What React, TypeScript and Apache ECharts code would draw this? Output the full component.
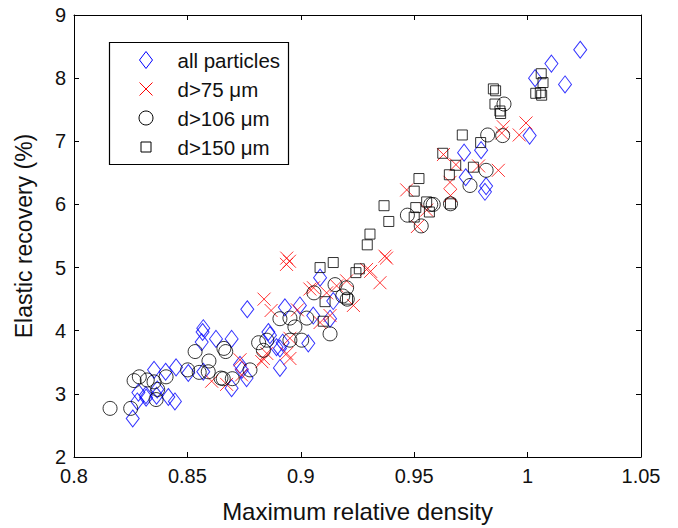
import React, { useEffect, useRef } from "react";
import * as echarts from "echarts";

const xTicks = [0.8, 0.85, 0.9, 0.95, 1, 1.05];
const yTicks = [2, 3, 4, 5, 6, 7, 8, 9];

const seriesNames = ["all particles", "d>75 μm", "d>106 μm", "d>150 μm"];

const allParticles: number[][] = [
  [1.0232, 8.45], [1.0105, 8.23], [1.0033, 8.0], [1.0165, 7.9], [1.0009, 7.09],
  [0.972, 6.82], [0.9795, 6.86], [0.9727, 6.43], [0.9817, 6.29], [0.9812, 6.2],
  [0.8259, 2.61], [0.8279, 2.88], [0.8317, 2.98], [0.8353, 3.38], [0.8367, 3.07],
  [0.8404, 3.35], [0.8416, 2.95], [0.8445, 2.88], [0.845, 3.42], [0.8504, 3.33],
  [0.8567, 3.98], [0.8563, 3.82], [0.8626, 3.87], [0.8695, 3.87], [0.8695, 3.09],
  [0.8764, 4.34], [0.8732, 3.46], [0.8761, 3.25], [0.8864, 3.93], [0.8908, 3.41],
  [0.893, 4.37], [0.8908, 3.72], [0.8996, 4.4], [0.9033, 3.8], [0.9085, 4.84],
  [0.9143, 4.47], [0.9129, 4.19], [0.892, 3.81], [0.857, 4.04], [0.8857, 3.98],
  [0.8893, 3.74], [0.9055, 4.24], [0.874, 3.38], [0.857, 3.35], [0.8284, 3.02],
  [0.8318, 2.94], [0.8364, 2.97],
];

const d75: number[][] = [
  [0.9993, 7.29], [0.9963, 7.1], [0.9893, 7.23], [0.9886, 7.13], [0.9871, 6.54],
  [0.9784, 6.61], [0.9684, 6.63], [0.9629, 6.79], [0.9658, 6.35], [0.966, 6.14],
  [0.9467, 6.23], [0.9514, 5.65], [0.9555, 5.91],
  [0.9371, 5.18], [0.9378, 5.15], [0.9308, 4.94], [0.9349, 4.76],
  [0.8838, 4.5], [0.8869, 4.32], [0.8938, 5.15], [0.895, 5.1], [0.8937, 5.05],
  [0.8732, 3.54], [0.8739, 3.3], [0.8607, 3.2], [0.8673, 3.15], [0.8835, 3.56],
  [0.885, 3.64], [0.8938, 3.64], [0.8952, 3.56], [0.8985, 4.33], [0.9056, 4.68],
  [0.9114, 4.6], [0.9158, 4.71], [0.9232, 4.4], [0.9129, 4.24], [0.929, 4.97],
  [0.9202, 4.79], [0.9085, 4.13], [0.8828, 3.51], [0.8952, 3.88], [0.904, 4.66],
];

const d106: number[][] = [
  [0.9896, 7.59], [0.9824, 7.1], [0.989, 7.09], [0.9817, 6.54], [0.9746, 6.3],
  [0.966, 6.01], [0.9584, 6.0], [0.9573, 6.0], [0.947, 5.83], [0.9531, 5.66],
  [0.8159, 2.77], [0.825, 2.77], [0.8265, 3.21], [0.8288, 3.27], [0.8323, 3.22],
  [0.8353, 3.19], [0.8369, 3.07], [0.8362, 2.91], [0.8406, 3.27], [0.8501, 3.38],
  [0.8534, 3.67], [0.8552, 3.34], [0.8595, 3.52], [0.8592, 3.35], [0.8648, 3.25],
  [0.8661, 3.72], [0.8669, 3.67], [0.8658, 3.24], [0.8698, 3.24], [0.8776, 3.38],
  [0.8814, 3.81], [0.885, 3.85], [0.8835, 3.69], [0.8908, 4.19], [0.8952, 4.2],
  [0.8974, 4.06], [0.8952, 3.85], [0.9004, 3.85], [0.9026, 4.2], [0.9058, 4.6],
  [0.9129, 3.95], [0.9151, 4.73], [0.9202, 4.68], [0.9185, 4.55], [0.9205, 4.5],
];

const d150: number[][] = [
  [0.9849, 7.83], [0.9859, 7.8], [0.9856, 7.59], [0.9878, 7.48], [0.9881, 7.44],
  [1.006, 8.07], [1.0068, 7.93], [1.0036, 7.76], [1.0062, 7.73], [1.0056, 7.77],
  [0.9712, 7.1], [0.9626, 6.81], [0.9683, 6.62], [0.9793, 6.98], [0.9761, 6.59],
  [0.9655, 6.47], [0.9521, 6.41], [0.95, 6.21], [0.9367, 5.98], [0.9388, 5.73],
  [0.9555, 6.04], [0.9507, 5.95], [0.9567, 5.88], [0.95, 5.8], [0.966, 6.01],
  [0.9305, 5.53], [0.9293, 5.36], [0.9085, 5.0], [0.9143, 5.08], [0.9258, 4.98],
  [0.9243, 4.92], [0.9107, 4.46], [0.9099, 4.15], [0.9206, 4.5],
];

const FONT = "'Liberation Sans', Arial, Helvetica, sans-serif";
const CROSS = "path://M0,0L10,10M10,0L0,10";

export default function App() {
  const ref = useRef<HTMLDivElement>(null);
  useEffect(() => {
    if (!ref.current) return;
    const chart = echarts.init(ref.current, null, { renderer: "svg" });
    const axisLine = { show: true, onZero: false, lineStyle: { color: "#000", width: 1 } };
    const axisTick = { show: true, inside: true, length: 5, lineStyle: { color: "#000", width: 1 } };
    const xBase = {
      type: "value" as const,
      min: xTicks[0],
      max: xTicks[xTicks.length - 1],
      interval: 0.05,
      splitLine: { show: false },
      axisLine,
      axisTick,
    };
    const yBase = {
      type: "value" as const,
      min: yTicks[0],
      max: yTicks[yTicks.length - 1],
      interval: 1,
      splitLine: { show: false },
      axisLine,
      axisTick,
    };
    const lx = 146;
    const rows = [60, 89, 118, 147];
    chart.setOption({
      animation: false,
      backgroundColor: "#fff",
      grid: { left: 74, right: 37, top: 15, bottom: 65 },
      xAxis: [
        {
          ...xBase,
          position: "bottom",
          name: "Maximum relative density",
          nameLocation: "middle",
          nameGap: 42,
          nameTextStyle: { fontFamily: FONT, fontSize: 24, color: "#111" },
          axisLabel: {
            fontFamily: FONT, fontSize: 20, color: "#111", margin: 9,
            formatter: (v: number) => String(Math.round(v * 100) / 100),
          },
        },
        { ...xBase, position: "top", axisLabel: { show: false } },
      ],
      yAxis: [
        {
          ...yBase,
          position: "left",
          name: "Elastic recovery (%)",
          nameLocation: "middle",
          nameGap: 39,
          nameTextStyle: { fontFamily: FONT, fontSize: 23, color: "#111" },
          axisLabel: { fontFamily: FONT, fontSize: 20, color: "#111", margin: 8 },
        },
        { ...yBase, position: "right", axisLabel: { show: false } },
      ],
      series: [
        {
          name: seriesNames[0], type: "scatter", data: allParticles, silent: true,
          symbol: "diamond", symbolSize: [13, 17],
          itemStyle: { color: "transparent", borderColor: "#0000ff", borderWidth: 1 },
        },
        {
          name: seriesNames[1], type: "scatter", data: d75, silent: true,
          symbol: CROSS, symbolSize: 13,
          itemStyle: { color: "transparent", borderColor: "#ff0000", borderWidth: 1 },
        },
        {
          name: seriesNames[2], type: "scatter", data: d106, silent: true,
          symbol: "circle", symbolSize: 14,
          itemStyle: { color: "transparent", borderColor: "#000", borderWidth: 1 },
        },
        {
          name: seriesNames[3], type: "scatter", data: d150, silent: true,
          symbol: "rect", symbolSize: 10,
          itemStyle: { color: "transparent", borderColor: "#000", borderWidth: 1 },
        },
      ],
      graphic: [
        {
          type: "rect", shape: { x: 109.5, y: 42.5, width: 179, height: 122 },
          style: { fill: "#fff", stroke: "#000", lineWidth: 1.2 }, z: 100,
        },
        {
          type: "polygon",
          shape: { points: [[lx, rows[0] - 8.5], [lx + 6.5, rows[0]], [lx, rows[0] + 8.5], [lx - 6.5, rows[0]]] },
          style: { fill: "none", stroke: "#0000ff", lineWidth: 1 }, z: 101,
        },
        {
          type: "line", shape: { x1: lx - 6.5, y1: rows[1] - 6.5, x2: lx + 6.5, y2: rows[1] + 6.5 },
          style: { stroke: "#ff0000", lineWidth: 1 }, z: 101,
        },
        {
          type: "line", shape: { x1: lx + 6.5, y1: rows[1] - 6.5, x2: lx - 6.5, y2: rows[1] + 6.5 },
          style: { stroke: "#ff0000", lineWidth: 1 }, z: 101,
        },
        {
          type: "circle", shape: { cx: lx, cy: rows[2], r: 7 },
          style: { fill: "none", stroke: "#000", lineWidth: 1 }, z: 101,
        },
        {
          type: "rect", shape: { x: lx - 5, y: rows[3] - 5, width: 10, height: 10 },
          style: { fill: "none", stroke: "#000", lineWidth: 1 }, z: 101,
        },
        ...seriesNames.map((n, i) => ({
          type: "text", x: 177.5, y: rows[i], z: 101,
          style: { text: n, fontFamily: FONT, fontSize: 20.5, fill: "#111", verticalAlign: "middle", align: "left" },
        })),
      ],
    });
    return () => chart.dispose();
  }, []);
  return (
    <div
      ref={ref}
      style={{ position: "fixed", left: 0, top: 0, width: 678, height: 528, background: "#fff" }}
    />
  );
}
